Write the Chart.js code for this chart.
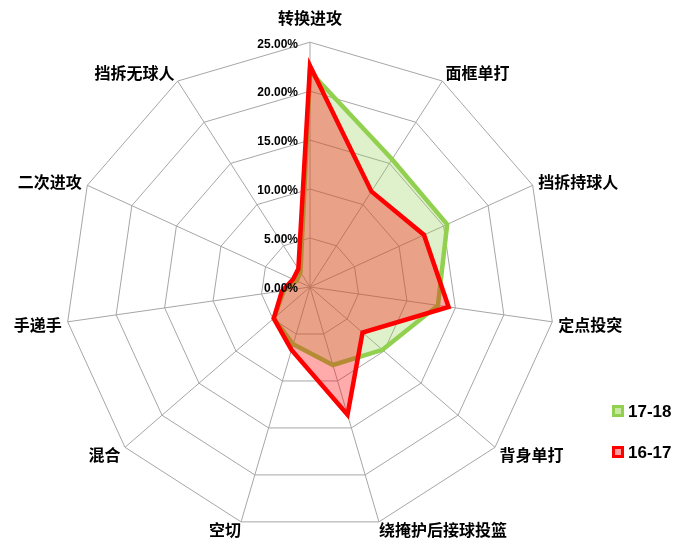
<!DOCTYPE html>
<html>
<head>
<meta charset="utf-8">
<script src="https://cdn.jsdelivr.net/npm/chart.js@4.4.1/dist/chart.umd.min.js"></script>
<style>
  html, body { margin: 0; padding: 0; background: #fff; }
  #wrap { position: relative; width: 692px; height: 559px; }
  .legend { position: absolute; left: 612px; font: bold 17px 'Liberation Sans', Arial, sans-serif; color: #000; }
  .legend span.box { display: inline-block; width: 6px; height: 6px; border: 3px solid; vertical-align: middle; margin-right: 4px; position: relative; top: -2px; }
</style>
</head>
<body>
<div id="wrap">
  <canvas id="radarChart"></canvas>
  <div class="legend" id="lg1" style="top:402px"><span class="box" style="border-color:#92D050;background:#C9E8A6"></span>17-18</div>
  <div class="legend" id="lg2" style="top:443px"><span class="box" style="border-color:#FF0000;background:#FF9C9C"></span>16-17</div>
</div>
<script>
// dados
const categories = ['转换进攻', '面框单打', '挡拆持球人', '定点投突', '背身单打', '绕掩护后接球投篮', '空切', '混合', '手递手', '二次进攻', '挡拆无球人'];
const seriesNames = ['17-18', '16-17'];
const values1718 = [22.0, 15.5, 15.4, 13.2, 9.8, 8.3, 6.1, 4.9, 2.7, 1.5, 1.8];
const values1617 = [22.6, 11.6, 12.8, 14.3, 7.1, 13.6, 6.7, 4.9, 2.9, 1.9, 2.2];
const tickValues = [0, 5, 10, 15, 20, 25];

// ajuste fino dos rótulos (Excel centra mais os rótulos nos vértices)
const labelPadding = [24, 6, 6, 6, 6, 0, 0, 6, 6, 6, 6];
const labelLineHeight = [1.2, 5.2, 1.2, 5.2, 7.2, 16.8, 16.8, 7.2, 5.2, 1.2, 5.2];

// rótulos dos ticks à esquerda do eixo
const tickLabelPlugin = {
    id: 'tickLabels',
    afterDatasetsDraw(chart) {
        const r = chart.scales.r;
        const ctx = chart.ctx;
        ctx.save();
        ctx.font = "bold 12px 'Liberation Sans', Arial, sans-serif";
        ctx.fillStyle = '#000';
        ctx.textAlign = 'right';
        ctx.textBaseline = 'middle';
        tickValues.forEach(v => {
            const d = r.getDistanceFromCenterForValue(v);
            ctx.fillText(v.toFixed(2) + '%', r.xCenter - 12, r.yCenter - d + 2);
        });
        ctx.restore();
    }
};

const ctx = document.getElementById('radarChart').getContext('2d');

const radarChart = new Chart(ctx, {
    type: 'radar',
    data: {
        labels: categories,
        datasets: [{
            // 16-17 por cima
            label: seriesNames[1],
            data: values1617,
            borderColor: '#FF0000',
            backgroundColor: 'rgba(255, 0, 0, 0.33)',
            borderWidth: 4.5,
            pointRadius: 0,
            fill: true
        },
        {
            label: seriesNames[0],
            data: values1718,
            borderColor: '#92D050',
            backgroundColor: 'rgba(146, 208, 80, 0.3)',
            borderWidth: 4.5,
            pointRadius: 0,
            fill: true
        }]
    },
    options: {
        responsive: true,
        maintainAspectRatio: false,
        animation: false,
        layout: { padding: { left: 0, right: 54, top: 8, bottom: 11 } },
        plugins: {
            legend: { display: false },
            tooltip: { enabled: false }
        },
        scales: {
            r: {
                min: tickValues[0],
                max: tickValues[tickValues.length - 1],
                ticks: { stepSize: tickValues[1] - tickValues[0], display: false },
                grid: { color: '#A6A6A6', lineWidth: 1 },
                angleLines: { color: '#A6A6A6', lineWidth: 1 },
                pointLabels: {
                    color: '#000',
                    padding: (c) => labelPadding[c.index],
                    font: (c) => ({
                        family: "'Noto Sans CJK SC', sans-serif",
                        size: 16,
                        weight: 'bold',
                        lineHeight: labelLineHeight[c.index] + 'px'
                    })
                }
            }
        }
    },
    plugins: [tickLabelPlugin]
});
</script>
</body>
</html>
